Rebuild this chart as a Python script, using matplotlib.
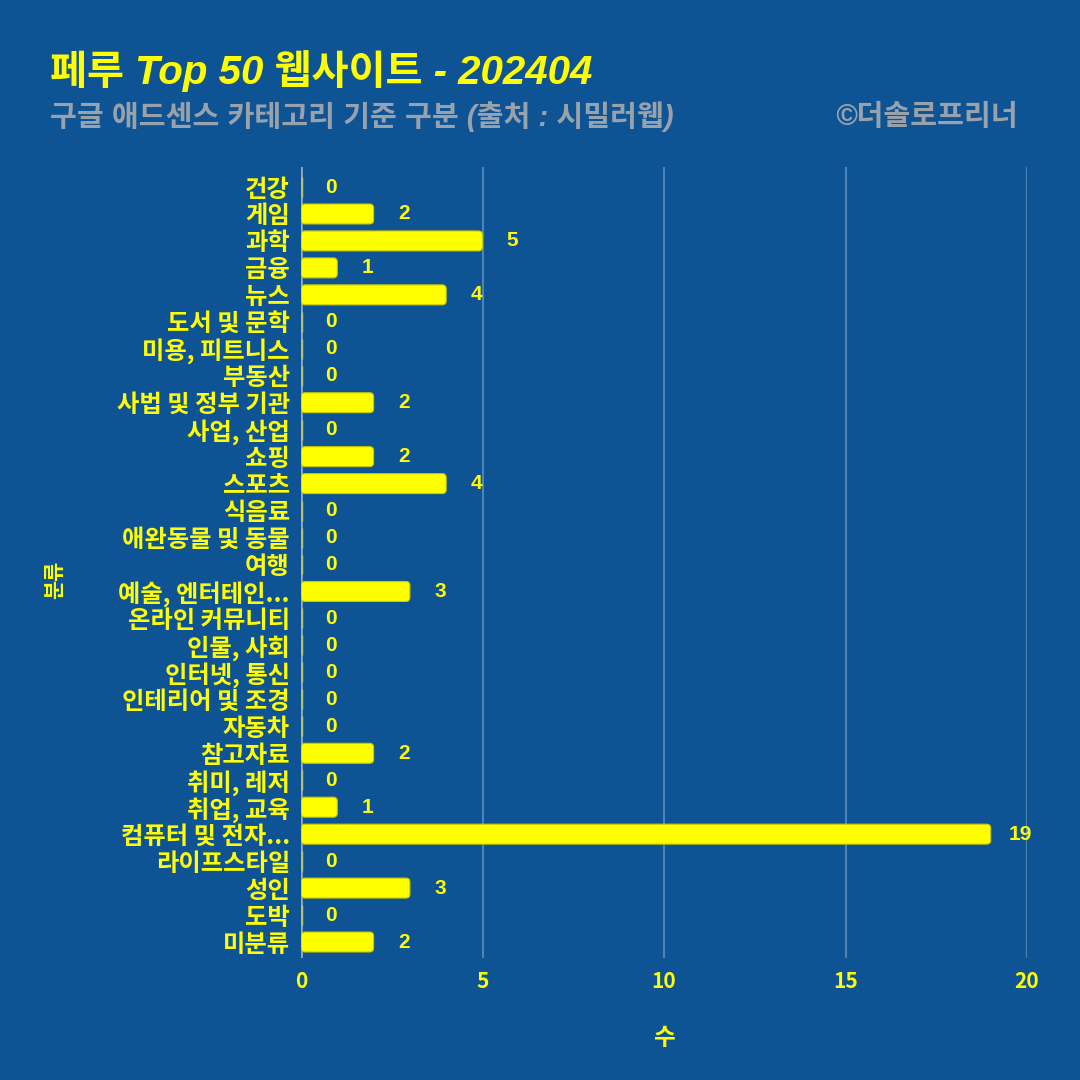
import matplotlib
matplotlib.use("Agg")
import matplotlib.pyplot as plt
from matplotlib.patches import FancyBboxPatch

FAM = ['Liberation Sans', 'Noto Sans CJK KR', 'DejaVu Sans']
plt.rcParams['font.family'] = FAM

categories = ["건강", "게임", "과학", "금융", "뉴스", "도서 및 문학", "미용, 피트니스", "부동산",
              "사법 및 정부 기관", "사업, 산업", "쇼핑", "스포츠", "식음료", "애완동물 및 동물", "여행",
              "예술, 엔터테인...", "온라인 커뮤니티", "인물, 사회", "인터넷, 통신", "인테리어 및 조경",
              "자동차", "참고자료", "취미, 레저", "취업, 교육", "컴퓨터 및 전자...", "라이프스타일",
              "성인", "도박", "미분류"]
values = [0, 2, 5, 1, 4, 0, 0, 0, 2, 0, 2, 4, 0, 0, 0, 3, 0, 0, 0, 0, 0, 2, 0, 1, 19, 0, 3, 0, 2]
xticks = [0, 5, 10, 15, 20]

title = "페루 Top 50 웹사이트 - 202404"
subtitle = "구글 애드센스 카테고리 기준 구분 (출처 : 시밀러웹)"
credit = "©더솔로프리너"
xlabel = "수"
ylabel = "분류"

BG = "#0E5494"
YEL = "#FFFF00"
GRAY = "#98a2ad"
GRID = "#4f82b6"

fig = plt.figure(figsize=(10.8, 10.8), dpi=100, facecolor=BG)
ax = fig.add_axes([301/1080, 1-958/1080, (1027-301)/1080, (958-167)/1080])
ax.set_facecolor(BG)

n = len(categories)
ax.set_xlim(0, 20)
ax.set_ylim(n - 1 + 0.593, -0.742)

px_x = (1027 - 301) / 20.0
px_y = (942 - 187) / (n - 1)
bar_h = 0.74
r_px = 4.0
for i, v in enumerate(values):
    if v > 0:
        p = FancyBboxPatch((0, i - bar_h/2), v, bar_h,
                           boxstyle=f"round,pad=0,rounding_size={r_px/px_x}",
                           mutation_aspect=px_x/px_y,
                           facecolor=YEL, edgecolor="#c8c800", linewidth=0.8, zorder=3)
        ax.add_patch(p)
    else:
        ax.plot([0, 0], [i - bar_h/2, i + bar_h/2], color="#b8c070", linewidth=2.5,
                solid_capstyle='butt', zorder=3)
    ax.text(v + 30/px_x, i, str(v), color=YEL, fontsize=15, fontweight='bold',
            ha='center', va='center', zorder=4)

ax.set_yticks(range(n))
ax.set_yticklabels(categories, color=YEL, fontsize=17.5, fontweight='bold',
                   family=['Noto Sans CJK KR', 'DejaVu Sans'])
ax.set_xticks(xticks)
ax.set_xticklabels([str(t) for t in xticks], color=YEL, fontsize=15, fontweight='bold',
                   family=['Noto Sans CJK KR', 'DejaVu Sans'])
ax.tick_params(axis='both', length=0)
ax.tick_params(axis='y', pad=8)
ax.tick_params(axis='x', pad=9)

for t in xticks[1:]:
    ax.axvline(t, color=GRID, linewidth=1.5, zorder=1)
ax.axvline(0, color="#8fa8c0", linewidth=2, zorder=2)
for s in ax.spines.values():
    s.set_visible(False)

ax.set_xlabel(xlabel, color=YEL, fontsize=17, fontweight='bold', labelpad=25,
              family=['Noto Sans CJK KR', 'DejaVu Sans'])
fig.text(55/1080, 1-580/1080, ylabel, color=YEL, fontsize=15, fontweight='bold',
         rotation=90, ha='center', va='center', family=['Noto Sans CJK KR', 'DejaVu Sans'])

fig.text(50/1080, 1-71/1080, title, color=YEL, fontsize=29, fontweight='bold',
         style='italic', ha='left', va='center')
fig.text(50/1080, 1-117/1080, subtitle, color=GRAY, fontsize=21, fontweight='bold',
         style='italic', ha='left', va='center')
fig.text(1018/1080, 1-117/1080, credit, color=GRAY, fontsize=21, fontweight='bold',
         style='italic', ha='right', va='center')

fig.savefig("out.png", dpi=100, facecolor=BG)
